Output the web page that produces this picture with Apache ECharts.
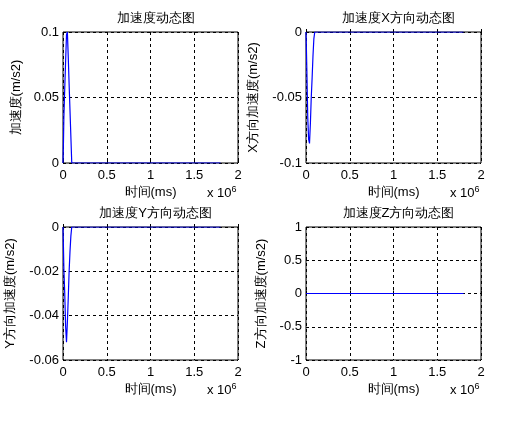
<!DOCTYPE html>
<html><head><meta charset="utf-8">
<script src="https://cdn.jsdelivr.net/npm/echarts@6/dist/echarts.min.js"></script>
<style>html,body{margin:0;padding:0;background:#fff}#c{width:511px;height:422px}</style>
</head><body><div id="c"></div>
<script>
const titles = ['加速度动态图','加速度X方向动态图','加速度Y方向动态图','加速度Z方向动态图'];
const yNames = ['加速度(m/s2)','X方向加速度(m/s2)','Y方向加速度(m/s2)','Z方向加速度(m/s2)'];
const xName = '时间(ms)';
const timeA = [0,5000,10000,20000,30000,40000,50000,60000,70000,80000,90000,100000,1800000];
const accTotal = [0,0.015,0.035,0.057,0.078,0.098,0.1,0.081,0.06,0.04,0.02,0,0];
const accX = [0,-0.014,-0.03,-0.065,-0.082,-0.085,-0.07,-0.05,-0.035,-0.018,-0.005,0,0];
const accY = [0,-0.009,-0.019,-0.03,-0.045,-0.052,-0.043,-0.032,-0.02,-0.011,-0.004,0,0];
const accZ = [0,0,0,0,0,0,0,0,0,0,0,0,0];
const yRanges = [[0,0.1,0.05],[-0.1,0,0.05],[-0.06,0,0.02],[-1,1,0.5]];
const seriesData = [accTotal,accX,accY,accZ];

const grids = [
 {left:63,top:32,width:175,height:131},
 {left:306,top:32,width:175,height:131},
 {left:63,top:227,width:175,height:133},
 {left:306,top:227,width:175,height:133}
];
const font = 'Liberation Sans, Arial, sans-serif';
const chart = echarts.init(document.getElementById('c'));
const opt = {
 animation:false,
 title: grids.map((g,i)=>({text:titles[i],left:g.left+g.width/2,textAlign:'center',top:g.top-25,
   textStyle:{fontSize:13,fontWeight:'normal',color:'#000',fontFamily:font}})),
 grid: grids.map(g=>Object.assign({show:true,borderColor:'#000',borderWidth:1,backgroundColor:'#fff'},g)),
 xAxis: grids.map((g,i)=>({type:'value',gridIndex:i,min:0,max:2000000,interval:500000,
   name:xName,nameLocation:'middle',nameGap:23,nameTextStyle:{fontSize:13,color:'#000',fontFamily:font},
   axisLine:{show:false},axisTick:{inside:true,length:3,lineStyle:{color:'#000'}},
   axisLabel:{color:'#000',fontSize:13,fontFamily:font,margin:6,formatter:v=>String(v/1e6)},
   splitLine:{show:true,lineStyle:{color:'#000',type:[3,3]}}})),
 yAxis: grids.map((g,i)=>({type:'value',gridIndex:i,min:yRanges[i][0],max:yRanges[i][1],interval:yRanges[i][2],
   name:yNames[i],nameLocation:'middle',nameGap:i===0?40:(i===3?38:46),nameTextStyle:{fontSize:13,color:'#000',fontFamily:font},
   axisLine:{show:false},axisTick:{inside:true,length:3,lineStyle:{color:'#000'}},
   axisLabel:{color:'#000',fontSize:13,fontFamily:font,margin:4,formatter:v=>String(+v.toFixed(3))},
   splitLine:{show:true,lineStyle:{color:'#000',type:[3,3]}}})),
 series: seriesData.map((d,i)=>({type:'line',xAxisIndex:i,yAxisIndex:i,showSymbol:false,z:100,zlevel:1,
   data:timeA.map((t,k)=>[t,d[k]]),lineStyle:{color:'#0000ff',width:1.2}})),
 graphic: grids.map(g=>({type:'text',left:g.left+g.width-31,top:g.top+g.height+22,
   style:{text:'{a|x 10}{b|6}',rich:{a:{fontSize:13,fontFamily:font,fill:'#000'},b:{fontSize:9,fontFamily:font,fill:'#000',verticalAlign:'top',padding:[0,0,8,0]}}}}))
};
chart.setOption(opt);
</script></body></html>
